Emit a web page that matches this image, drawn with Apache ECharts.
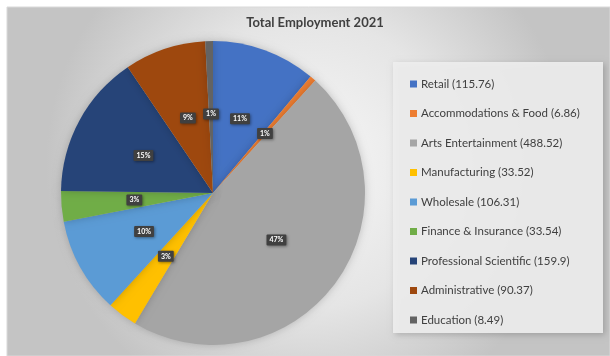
<!DOCTYPE html>
<html>
<head>
<meta charset="utf-8">
<script src="https://cdn.jsdelivr.net/npm/echarts@6/dist/echarts.min.js"></script>
<style>
  html, body { margin: 0; padding: 0; background: #ffffff; }
  #chart { width: 610px; height: 356px; }
</style>
</head>
<body>
<div id="chart"></div>
<script>
// Employment by sector, 2021
const sectors = [
  'Retail', 'Accommodations & Food', 'Arts Entertainment', 'Manufacturing',
  'Wholesale', 'Finance & Insurance', 'Professional Scientific', 'Administrative', 'Education'
];
const employment = [115.76, 6.86, 488.52, 33.52, 106.31, 33.54, 159.9, 90.37, 8.49];
const sectorColors = [
  '#4472C4', '#ED7D31', '#A5A5A5', '#FFC000', '#5B9BD5',
  '#70AD47', '#264478', '#9E480E', '#636363'
];

const valueByName = {};
sectors.forEach((s, i) => { valueByName[s] = employment[i]; });

const chart = echarts.init(document.getElementById('chart'), null, { renderer: 'canvas' });

chart.setOption({
  animation: false,
  color: sectorColors,
  graphic: [
    {
      type: 'rect',
      z: -10,
      shape: { x: 7, y: 7, width: 603, height: 349 },
      style: {
        fill: {
          type: 'radial', x: 0.5, y: 0.45, r: 0.75,
          colorStops: [
            { offset: 0, color: '#f7f7f7' },
            { offset: 0.55, color: '#e5e5e5' },
            { offset: 1, color: '#c4c4c4' }
          ]
        },
        stroke: '#d9d9d9',
        lineWidth: 1
      }
    },
    {
      type: 'rect',
      z: -5,
      shape: { x: 393, y: 62, width: 210, height: 271 },
      style: {
        fill: 'rgba(238,238,238,0.92)',
        shadowBlur: 6,
        shadowColor: 'rgba(0,0,0,0.2)',
        shadowOffsetX: 2,
        shadowOffsetY: 2
      }
    }
  ],
  title: {
    text: 'Total Employment 2021',
    left: 310,
    top: 11,
    textAlign: 'center',
    textStyle: {
      fontFamily: 'Lato',
      fontSize: 13,
      fontWeight: 'bold',
      color: '#404040'
    }
  },
  legend: {
    orient: 'vertical',
    left: 410,
    top: 77,
    padding: 0,
    itemWidth: 7,
    itemHeight: 7,
    itemGap: 15.5,
    icon: 'rect',
    data: sectors,
    formatter: name => name + ' (' + valueByName[name] + ')',
    textStyle: {
      fontFamily: 'Lato',
      fontSize: 11.5,
      lineHeight: 14,
      color: '#404040',
      padding: [0, 0, 0, -1]
    }
  },
  series: [
    {
      type: 'pie',
      center: [213, 193],
      radius: [0, 152],
      startAngle: 90,
      clockwise: true,
      avoidLabelOverlap: false,
      data: sectors.map((s, i) => ({ name: s, value: employment[i] })),
      itemStyle: {
        shadowBlur: 8,
        shadowColor: 'rgba(0,0,0,0.2)'
      },
      label: {
        show: true,
        position: 'inside',
        formatter: p => Math.round(p.percent) + '%',
        fontFamily: 'Lato',
        fontSize: 7,
        fontWeight: 'bold',
        color: '#ffffff',
        backgroundColor: '#404040',
        padding: [2, 3],
        borderRadius: 1,
        shadowBlur: 3,
        shadowColor: 'rgba(0,0,0,0.4)',
        shadowOffsetX: 1,
        shadowOffsetY: 1
      },
      labelLine: { show: false },
      emphasis: { disabled: true }
    }
  ]
});
</script>
</body>
</html>
